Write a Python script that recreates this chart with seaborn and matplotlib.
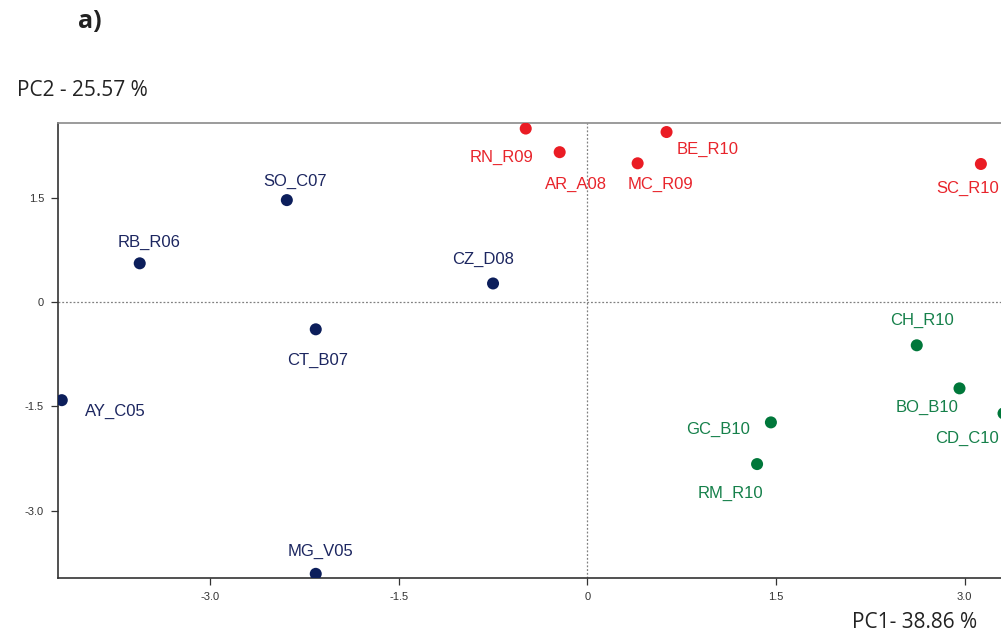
import matplotlib
matplotlib.use("Agg")
import matplotlib.pyplot as plt
import seaborn as sns
import pandas as pd

# ---- data ----
labels = ["RN_R09", "AR_A08", "BE_R10", "MC_R09", "SC_R10",
          "SO_C07", "RB_R06", "CZ_D08", "CT_B07", "AY_C05", "MG_V05",
          "CH_R10", "BO_B10", "CD_C10", "GC_B10", "RM_R10"]
pc1 = [-0.49, -0.22, 0.63, 0.40, 3.13,
       -2.39, -3.56, -0.75, -2.16, -4.18, -2.16,
       2.62, 2.96, 3.31, 1.46, 1.35]
pc2 = [2.50, 2.16, 2.45, 2.00, 1.99,
       1.47, 0.56, 0.27, -0.39, -1.41, -3.91,
       -0.62, -1.24, -1.60, -1.73, -2.33]
groups = ["red"] * 5 + ["blue"] * 6 + ["green"] * 5
xticks = [-3.0, -1.5, 0, 1.5, 3.0]
yticks = [-3.0, -1.5, 0, 1.5]
tick_text = ["-3.0", "-1.5", "0", "1.5", "3.0"]
ytick_text = ["-3.0", "-1.5", "0", "1.5"]

# label offsets in pixels (dx, dy downward positive)
offsets = [(-24, 29), (16, 32), (41, 17), (23, 21), (-13, 24),
           (8, -19), (9, -21), (-10, -24), (2, 31), (54, 11), (5, -22),
           (5, -25), (-32, 19), (-37, 25), (-53, 7), (-27, 29)]

df = pd.DataFrame({"PC1": pc1, "PC2": pc2, "group": groups, "label": labels})

point_colors = {"red": "#ea1c24", "blue": "#0c1e5b", "green": "#00773a"}
text_colors = {"red": "#e8242b", "blue": "#1c2660", "green": "#15804a"}

sns.set_style("white")
plt.rcParams["font.family"] = ["Liberation Sans", "DejaVu Sans"]

fig = plt.figure(figsize=(10.01, 6.37), dpi=100)
ax = fig.add_axes([58 / 1001, 1 - 578 / 637, (1001 - 58) / 1001, (578 - 123) / 637])

sns.scatterplot(data=df, x="PC1", y="PC2", hue="group", palette=point_colors,
                s=75, edgecolor="none", legend=False, ax=ax, zorder=3)

ax.axhline(0, color="#808080", lw=0.9, ls=(0, (1.5, 1.5)), zorder=1)
ax.axvline(0, color="#808080", lw=0.9, ls=(0, (1.5, 1.5)), zorder=1)

for lab, x, y, g, (dx, dy) in zip(labels, pc1, pc2, groups, offsets):
    ax.annotate(lab, (x, y), xytext=(dx * 0.72, -dy * 0.72), textcoords="offset points",
                ha="center", va="center", fontsize=12, color=text_colors[g],
                annotation_clip=False)

ax.set_xlim(-4.21, 3.29)
ax.set_ylim(-3.97, 2.58)
ax.set_xticks(xticks)
ax.set_xticklabels(tick_text)
ax.set_yticks(yticks)
ax.set_yticklabels(ytick_text)
ax.tick_params(axis="both", direction="out", length=5, width=0.9, color="#333333",
               labelsize=8, labelcolor="#333333", bottom=True, left=True, pad=5)
ax.set_xlabel("")
ax.set_ylabel("")

for side in ["left", "bottom"]:
    ax.spines[side].set_color("#333333")
    ax.spines[side].set_linewidth(1.2)
ax.spines["top"].set_color("#8a8a8a")
ax.spines["top"].set_linewidth(1.2)
ax.spines["right"].set_visible(False)

fig.text(17 / 1001, 1 - 90 / 637, "PC2 - 25.57 %", fontsize=15, color="#222222",
         family=["Open Sans", "DejaVu Sans"], ha="left", va="center")
fig.text(915 / 1001, 1 - 622 / 637, "PC1- 38.86 %", fontsize=15, color="#222222",
         family=["Open Sans", "DejaVu Sans"], ha="center", va="center")
fig.text(90 / 1001, 1 - 22 / 637, "a)", fontsize=18, fontweight="bold", color="#222222",
         family=["Open Sans", "DejaVu Sans"], ha="center", va="center")

fig.savefig("out.png", dpi=100)
